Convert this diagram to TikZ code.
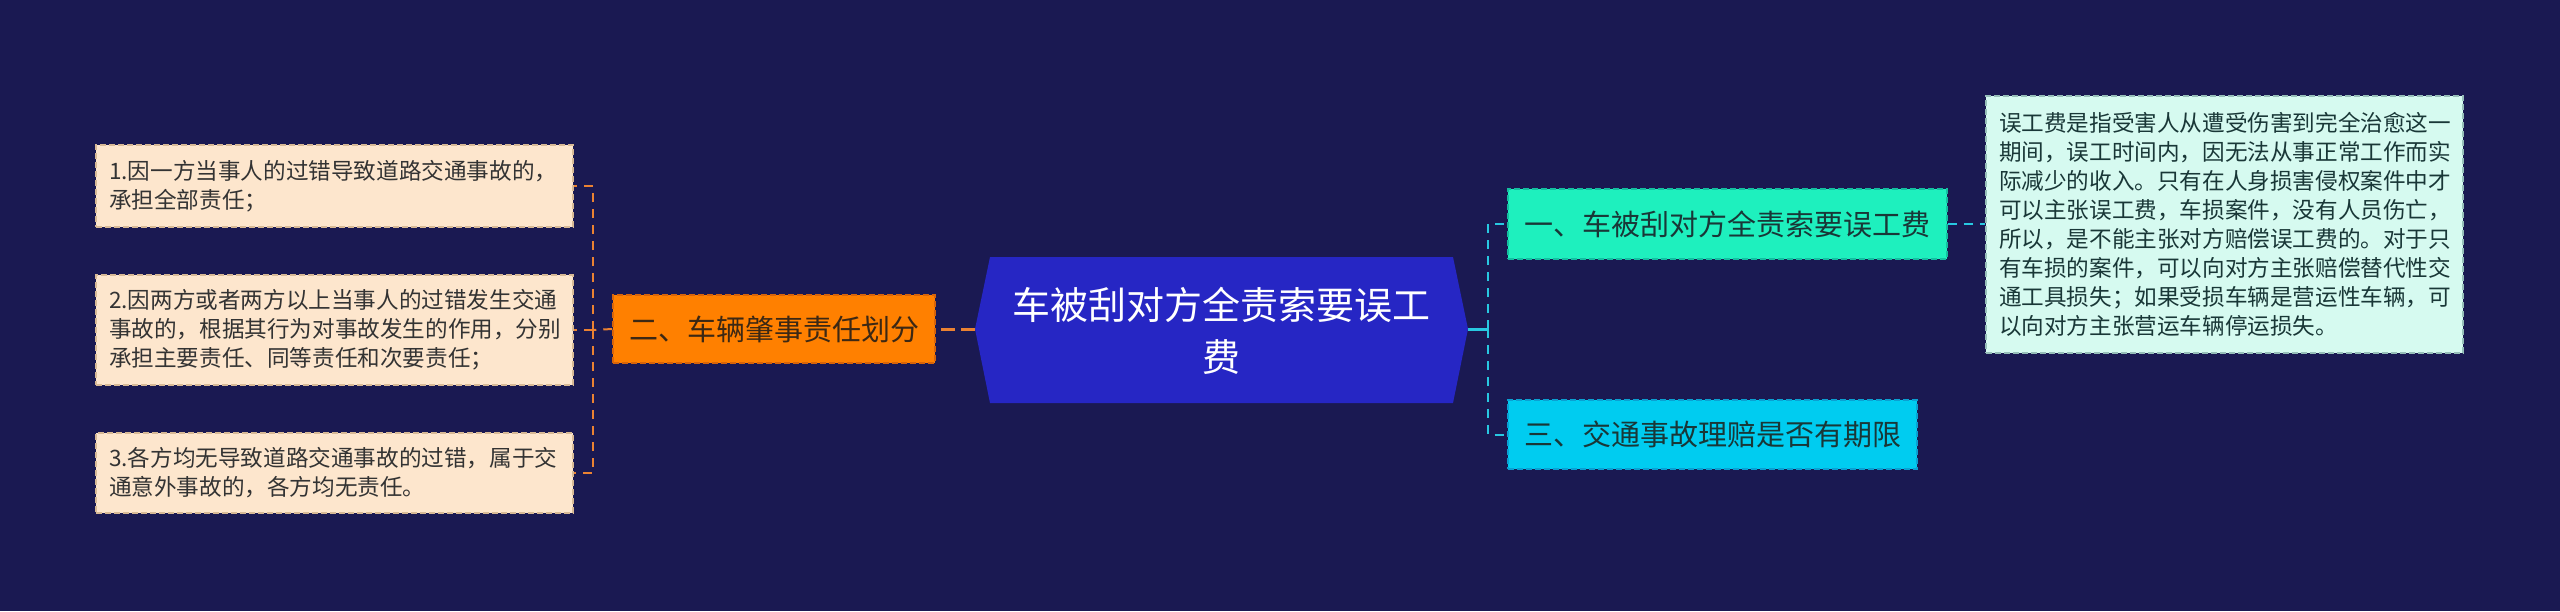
\documentclass[tikz,border=0pt]{standalone}
\usepackage{fontspec}
\newfontfamily\cjk{Noto Sans CJK SC}
\definecolor{bg}{RGB}{26,25,82}
\definecolor{central}{RGB}{38,38,196}
\definecolor{orangefill}{RGB}{255,128,0}
\definecolor{orangeborder}{RGB}{215,100,10}
\definecolor{orangeline}{RGB}{235,130,50}
\definecolor{peach}{RGB}{253,230,205}
\definecolor{peachborder}{RGB}{215,185,150}
\definecolor{mint}{RGB}{30,240,190}
\definecolor{mintborder}{RGB}{20,190,160}
\definecolor{cyanfill}{RGB}{0,204,240}
\definecolor{cyanborder}{RGB}{10,160,210}
\definecolor{lightmint}{RGB}{214,250,240}
\definecolor{lightmintborder}{RGB}{150,190,185}
\definecolor{cyanline}{RGB}{40,200,225}
\definecolor{darktext}{RGB}{51,51,51}
\definecolor{orangetext}{RGB}{60,40,20}
\definecolor{greentext}{RGB}{25,55,55}
\begin{document}
\begin{tikzpicture}[x=1pt,y=-1pt,
  boxbase/.style={dash pattern=on 6pt off 3pt, line width=1.5pt, inner ysep=0pt},
  leftbox/.style={boxbase, draw=peachborder, fill=peach, text=darktext,
    text width=451pt, align=left, inner xsep=13pt,
    font=\cjk\fontsize{22.6pt}{28.8pt}\selectfont},
  orangebox/.style={boxbase, draw=orangeborder, fill=orangefill, text=orangetext,
    minimum width=322pt, minimum height=68pt, inner xsep=0pt,
    font=\cjk\fontsize{29pt}{36pt}\selectfont},
  greenbox/.style={boxbase, draw=mintborder, fill=mint, text=greentext,
    minimum width=439pt, minimum height=70pt, inner xsep=0pt,
    font=\cjk\fontsize{29pt}{36pt}\selectfont},
  cyanbox/.style={boxbase, draw=cyanborder, fill=cyanfill, text=greentext,
    minimum width=409pt, minimum height=69pt, inner xsep=0pt,
    font=\cjk\fontsize{29pt}{36pt}\selectfont},
  notebox/.style={boxbase, draw=lightmintborder, fill=lightmint, text=greentext,
    text width=451pt, align=left, inner xsep=13pt, minimum height=257pt,
    font=\cjk\fontsize{22.6pt}{29pt}\selectfont},
  centraltext/.style={text=white, align=center, inner sep=0pt,
    font=\cjk\fontsize{38pt}{52pt}\selectfont},
  lconn/.style={draw=orangeline, line width=2pt, dash pattern=on 9pt off 7pt},
  rconn/.style={draw=cyanline, line width=2pt, dash pattern=on 9pt off 7pt}
]
\fill[bg] (0,0) rectangle (2560,611);
\useasboundingbox (0,0) rectangle (2560,611);

% central hexagon
\coordinate (hL) at (975,329);
\coordinate (hR) at (1468,329);
\fill[central] (990,257) -- (1453,257) -- (hR) -- (1453,403) -- (990,403) -- (hL) -- cycle;
\node[centraltext] (c) at (1221.5,331) {车被刮对方全责索要误工\\费};

% left side
\node[orangebox] (org) at (774,329) {二、车辆肇事责任划分};
\node[leftbox, minimum height=82pt] (l1) at (334.5,186) {1.因一方当事人的过错导致道路交通事故的，\\承担全部责任；};
\node[leftbox, minimum height=110pt] (l2) at (334.5,330) {2.因两方或者两方以上当事人的过错发生交通\\事故的，根据其行为对事故发生的作用，分别\\承担主要责任、同等责任和次要责任；};
\node[leftbox, minimum height=80pt] (l3) at (334.5,473) {3.各方均无导致道路交通事故的过错，属于交\\通意外事故的，各方均无责任。};

\coordinate (lj) at (593,330);
\draw[draw=orangeline, line width=3pt, dash pattern=on 14pt off 6pt] (hL) -- (org.east);
\draw[lconn] (org.west) -- (lj);
\draw[lconn] (lj) |- (l1.east);
\draw[lconn] (lj) -- (l2.east);
\draw[lconn] (lj) |- (l3.east);

% right side
\node[greenbox] (g) at (1727.5,224) {一、车被刮对方全责索要误工费};
\node[cyanbox] (cy) at (1712.5,434.5) {三、交通事故理赔是否有期限};
\node[notebox] (n) at (2224.5,224.5) {误工费是指受害人从遭受伤害到完全治愈这一\\期间，误工时间内，因无法从事正常工作而实\\际减少的收入。只有在人身损害侵权案件中才\\可以主张误工费，车损案件，没有人员伤亡，\\所以，是不能主张对方赔偿误工费的。对于只\\有车损的案件，可以向对方主张赔偿替代性交\\通工具损失；如果受损车辆是营运性车辆，可\\以向对方主张营运车辆停运损失。};

\coordinate (rj) at (1488,329);
\draw[draw=cyanline, line width=3pt] (hR) -- (rj);
\draw[rconn] (rj) |- (g.west);
\draw[rconn] (rj) |- (cy.west);
\draw[rconn] (g.east) -- (g.east -| n.west);
\end{tikzpicture}
\end{document}
